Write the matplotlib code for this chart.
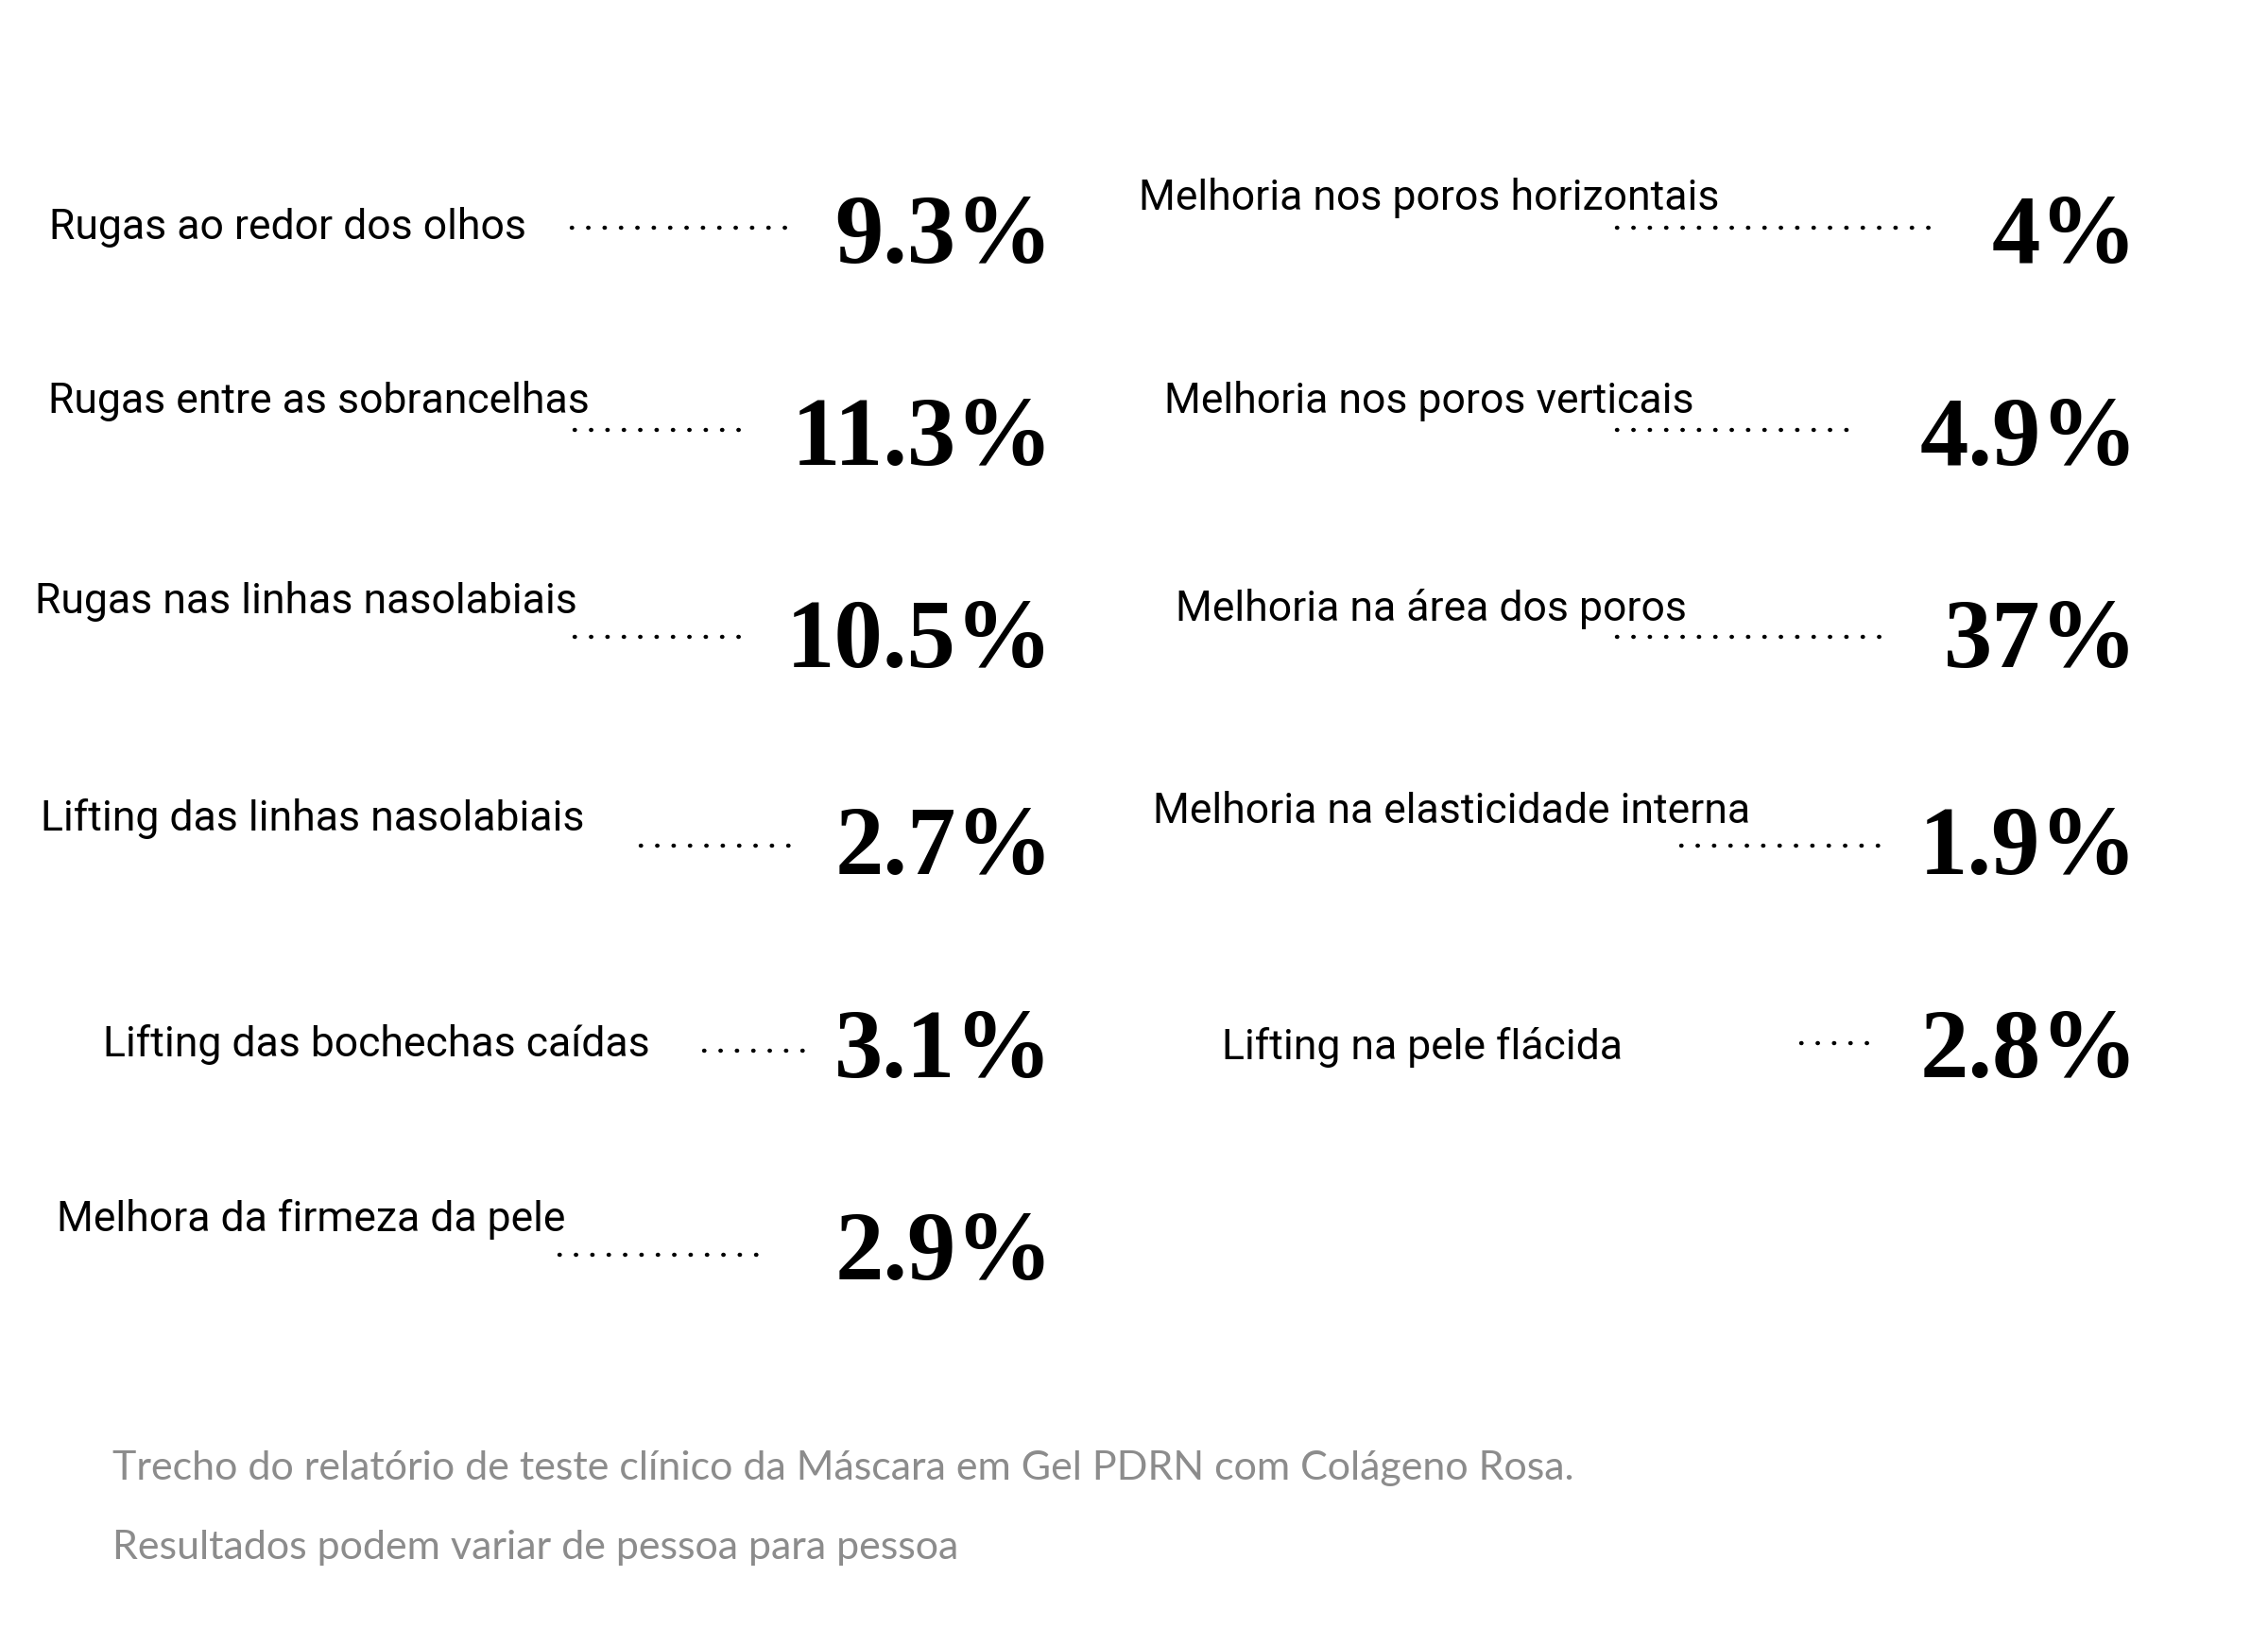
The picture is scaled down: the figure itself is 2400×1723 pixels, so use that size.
import matplotlib.pyplot as plt
from matplotlib.lines import Line2D

left_labels = ['Rugas ao redor dos olhos', 'Rugas entre as sobrancelhas',
               'Rugas nas linhas nasolabiais', 'Lifting das linhas nasolabiais',
               'Lifting das bochechas caídas', 'Melhora da firmeza da pele']
left_values = ['9.3%', '11.3%', '10.5%', '2.7%', '3.1%', '2.9%']
right_labels = ['Melhoria nos poros horizontais', 'Melhoria nos poros verticais',
                'Melhoria na área dos poros', 'Melhoria na elasticidade interna',
                'Lifting na pele flácida']
right_values = ['4%', '4.9%', '37%', '1.9%', '2.8%']
footer = ['Trecho do relatório de teste clínico da Máscara em Gel PDRN com Colágeno Rosa.',
          'Resultados podem variar de pessoa para pessoa']

# layout in reference pixel coords (1568 x 1126)
W, H = 1568.0, 1126.0
left_lab_xy = [(34, 157), (33, 277), (24, 416), (28, 566), (71, 722), (39, 843)]
left_dots = [(395, 543, 158), (397, 520, 298), (397, 520, 441), (443, 555, 585), (487, 563, 727), (387, 533, 868)]
right_lab_xy = [(787, 137), (805, 277), (813, 421), (797, 561), (845, 724)]
right_dots = [(1118, 1335, 158), (1118, 1288, 298), (1118, 1310, 441), (1162, 1308, 585), (1245, 1298, 722)]
val_y = [165, 305, 445, 588, 728, 868]

LABEL_FONT = ['Liberation Sans Narrow', 'Roboto', 'DejaVu Sans']

fig = plt.figure(figsize=(24, 17.24), dpi=100)
fig.patch.set_facecolor('white')


def fx(x):
    return x / W


def fy(y):
    return 1 - y / H


def draw_column(labels, values, lab_xy, dots, val_x):
    for lab, val, (lx, ly), (d0, d1, dy), vy in zip(labels, values, lab_xy, dots, val_y):
        fig.text(fx(lx), fy(ly), lab, family=LABEL_FONT, fontsize=32,
                 va='center', ha='left', color='black')
        fig.add_artist(Line2D([fx(d0), fx(d1)], [fy(dy), fy(dy)], transform=fig.transFigure,
                              color='black', linewidth=3.2, linestyle=(0, (0.1, 3.8)),
                              dash_capstyle='round'))
        fig.text(fx(val_x), fy(vy), val, family='Liberation Serif', fontweight='bold',
                 fontsize=74, va='center', ha='right', color='black')


draw_column(left_labels, left_values, left_lab_xy, left_dots, 728)
draw_column(right_labels, right_values, right_lab_xy, right_dots, 1478)

for i, line in enumerate(footer):
    fig.text(fx(78), fy(1015 + 55 * i), line, family=['Lato', 'DejaVu Sans'],
             fontsize=31, color='#8c8c8c', va='center', ha='left')

fig.savefig('out.png', dpi=100, facecolor='white')
